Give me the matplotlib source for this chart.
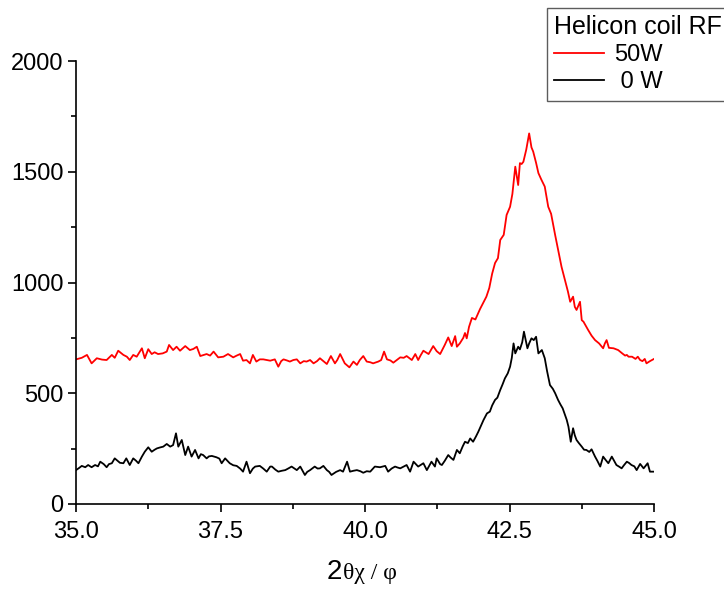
import matplotlib
matplotlib.use("Agg")
import matplotlib.pyplot as plt
from matplotlib.ticker import MultipleLocator

plt.rcParams['font.family'] = ['Liberation Sans', 'DejaVu Sans']

# 50 W series
x_50w = [35.00, 35.10, 35.19, 35.27, 35.36, 35.45, 35.53, 35.62, 35.67, 35.73, 35.82, 35.88,
         35.93, 35.99, 36.05, 36.14, 36.19, 36.25, 36.31, 36.36, 36.42, 36.50, 36.57, 36.61,
         36.68, 36.74, 36.80, 36.89, 36.97, 37.03, 37.09, 37.15, 37.20, 37.26, 37.32, 37.38,
         37.46, 37.55, 37.63, 37.72, 37.78, 37.84, 37.89, 37.95, 38.01, 38.06, 38.12, 38.18,
         38.24, 38.30, 38.36, 38.44, 38.50, 38.55, 38.59, 38.65, 38.70, 38.76, 38.82, 38.88,
         38.94, 38.99, 39.05, 39.11, 39.17, 39.22, 39.28, 39.34, 39.41, 39.48, 39.52, 39.57,
         39.65, 39.73, 39.80, 39.86, 39.91, 39.97, 40.03, 40.09, 40.14, 40.23, 40.28, 40.33,
         40.38, 40.44, 40.49, 40.55, 40.61, 40.67, 40.72, 40.81, 40.87, 40.92, 40.96, 41.01,
         41.10, 41.18, 41.24, 41.30, 41.38, 41.44, 41.50, 41.56, 41.59, 41.64, 41.70, 41.73,
         41.76, 41.80, 41.85, 41.91, 41.99, 42.05, 42.10, 42.15, 42.20, 42.25, 42.30, 42.34,
         42.40, 42.45, 42.51, 42.55, 42.60, 42.65, 42.68, 42.71, 42.74, 42.79, 42.84, 42.88,
         42.91, 42.96, 43.00, 43.05, 43.11, 43.17, 43.22, 43.29, 43.34, 43.40, 43.46, 43.51,
         43.55, 43.60, 43.63, 43.66, 43.72, 43.75, 43.78, 43.86, 43.92, 43.98, 44.05, 44.12,
         44.15, 44.18, 44.22, 44.30, 44.38, 44.45, 44.50, 44.53, 44.56, 44.62, 44.68, 44.72,
         44.76, 44.80, 44.84, 44.87, 44.93, 45.00]
y_50w = [653, 660, 673, 635, 658, 652, 650, 673, 660, 692, 673, 665,
         650, 673, 665, 703, 658, 699, 677, 685, 677, 680, 688, 718,
         695, 710, 692, 713, 695, 700, 710, 668, 672, 677, 670, 688,
         662, 665, 677, 662, 670, 677, 647, 650, 635, 673, 643, 653,
         653, 650, 647, 653, 620, 645, 653, 648, 643, 650, 653, 635,
         645, 643, 650, 635, 645, 658, 645, 632, 668, 635, 650, 677,
         635, 617, 643, 628, 650, 668, 643, 640, 635, 643, 650, 688,
         653, 648, 638, 650, 662, 660, 668, 650, 677, 650, 670, 692,
         677, 713, 690, 677, 718, 752, 713, 758, 710, 725, 750, 772,
         748, 800, 840, 833, 880, 910, 936, 975, 1040, 1088, 1110, 1192,
         1215, 1305, 1342, 1400, 1523, 1440, 1539, 1535, 1545, 1600, 1673, 1610,
         1591, 1540, 1494, 1465, 1433, 1342, 1310, 1214, 1150, 1071, 1010, 960,
         913, 936, 890, 876, 913, 830, 823, 786, 760, 740, 725, 703,
         725, 740, 705, 703, 695, 680, 670, 673, 665, 665, 655, 665,
         650, 645, 655, 635, 645, 655]

# 0 W series
x_0w = [35.00, 35.05, 35.10, 35.16, 35.21, 35.27, 35.33, 35.38, 35.42, 35.48, 35.53, 35.57,
        35.62, 35.67, 35.72, 35.76, 35.82, 35.87, 35.93, 35.99, 36.04, 36.08, 36.14, 36.19,
        36.25, 36.31, 36.36, 36.40, 36.45, 36.51, 36.57, 36.63, 36.68, 36.73, 36.77, 36.83,
        36.89, 36.94, 37.00, 37.06, 37.12, 37.16, 37.20, 37.26, 37.30, 37.35, 37.43, 37.48,
        37.52, 37.58, 37.62, 37.66, 37.72, 37.78, 37.84, 37.89, 37.95, 38.01, 38.06, 38.10,
        38.18, 38.24, 38.30, 38.36, 38.39, 38.45, 38.50, 38.56, 38.62, 38.67, 38.73, 38.78,
        38.82, 38.88, 38.96, 39.00, 39.05, 39.13, 39.18, 39.22, 39.28, 39.34, 39.38, 39.42,
        39.50, 39.57, 39.62, 39.69, 39.74, 39.80, 39.86, 39.92, 39.97, 40.03, 40.09, 40.17,
        40.26, 40.35, 40.40, 40.46, 40.52, 40.56, 40.61, 40.66, 40.72, 40.78, 40.84, 40.92,
        41.01, 41.07, 41.15, 41.21, 41.24, 41.30, 41.33, 41.38, 41.44, 41.48, 41.53, 41.59,
        41.64, 41.69, 41.73, 41.78, 41.82, 41.87, 41.92, 41.96, 42.00, 42.05, 42.11, 42.16,
        42.20, 42.25, 42.29, 42.34, 42.38, 42.42, 42.47, 42.51, 42.54, 42.57, 42.60, 42.65,
        42.68, 42.72, 42.75, 42.78, 42.81, 42.84, 42.88, 42.92, 42.96, 43.00, 43.06, 43.11,
        43.15, 43.20, 43.25, 43.29, 43.34, 43.38, 43.42, 43.46, 43.49, 43.52, 43.56, 43.60,
        43.63, 43.66, 43.70, 43.75, 43.79, 43.83, 43.88, 43.92, 43.95, 43.98, 44.02, 44.07,
        44.12, 44.16, 44.21, 44.27, 44.31, 44.35, 44.40, 44.44, 44.48, 44.53, 44.57, 44.61,
        44.66, 44.70, 44.76, 44.82, 44.89, 44.93, 45.00]
y_0w = [153, 162, 172, 166, 176, 166, 176, 170, 191, 180, 166, 180,
        184, 206, 195, 186, 184, 206, 176, 206, 195, 184, 214, 236,
        256, 236, 245, 251, 255, 259, 271, 259, 266, 319, 259, 289,
        221, 259, 214, 244, 206, 225, 221, 206, 215, 217, 211, 205,
        184, 206, 195, 184, 175, 172, 160, 146, 191, 139, 160, 169,
        172, 160, 146, 169, 169, 155, 146, 150, 153, 160, 169, 160,
        153, 169, 131, 145, 153, 169, 160, 161, 172, 153, 145, 131,
        145, 153, 146, 191, 146, 150, 153, 148, 141, 148, 146, 169,
        166, 172, 146, 160, 169, 165, 161, 168, 176, 146, 191, 169,
        184, 153, 191, 169, 206, 180, 176, 195, 221, 210, 199, 244,
        229, 260, 281, 275, 296, 281, 305, 326, 350, 379, 409, 417,
        445, 470, 480, 515, 540, 567, 590, 620, 660, 725, 680, 710,
        698, 730, 778, 740, 703, 725, 748, 740, 755, 680, 695, 658,
        600, 537, 520, 500, 470, 450, 432, 402, 380, 349, 281, 342,
        310, 289, 275, 259, 245, 244, 235, 247, 230, 214, 195, 169,
        214, 200, 184, 214, 195, 176, 168, 161, 175, 191, 185, 176,
        170, 153, 181, 161, 184, 146, 146]

labels = ['50W', ' 0 W']
legend_title = 'Helicon coil RF'
xticks = [35.0, 37.5, 40.0, 42.5, 45.0]
yticks = [0, 500, 1000, 1500, 2000]

fig = plt.figure(figsize=(7.24, 5.90), dpi=100)
ax = fig.add_axes([76/724, 1 - 504/590, (654-76)/724, (504-61)/590])

l1, = ax.plot(x_50w, y_50w, color='#ff0000', lw=1.3)
l2, = ax.plot(x_0w, y_0w, color='black', lw=1.3)

ax.set_xlim(35, 45)
ax.set_ylim(0, 2000)
ax.set_xticks(xticks)
ax.set_xticklabels([f'{v:.1f}' for v in xticks])
ax.set_yticks(yticks)
ax.xaxis.set_minor_locator(MultipleLocator(1.25))
ax.yaxis.set_minor_locator(MultipleLocator(250))

for s in ['top', 'right']:
    ax.spines[s].set_visible(False)
for s in ['left', 'bottom']:
    ax.spines[s].set_linewidth(1.2)

ax.tick_params(which='major', direction='out', length=6, width=1.2, labelsize=17, pad=3)
ax.tick_params(axis='x', which='major', pad=6)
ax.tick_params(which='minor', direction='out', length=3.8, width=1.2)

# x label: "2" larger, greek part in serif
fig.text(0.4725, 1 - 579/590, '2', fontsize=20, ha='right', va='baseline',
         family=['Liberation Sans', 'DejaVu Sans'])
fig.text(0.4735, 1 - 579/590, 'θχ / φ', fontsize=17, ha='left', va='baseline',
         family=['Liberation Serif', 'DejaVu Serif'])

leg = fig.legend([l1, l2], labels, title=legend_title, loc='upper left',
                 bbox_to_anchor=(547/724, 1 - 8/590), bbox_transform=fig.transFigure,
                 fontsize=17, title_fontsize=18, frameon=True, fancybox=False,
                 edgecolor='#333333', handlelength=2.1, handletextpad=0.45,
                 labelspacing=0.22, borderpad=0.3, borderaxespad=0,
                 alignment='left')
leg.get_frame().set_linewidth(1.0)
for h in leg.get_lines():
    h.set_linewidth(1.3)

fig.savefig('out.png', dpi=100)
